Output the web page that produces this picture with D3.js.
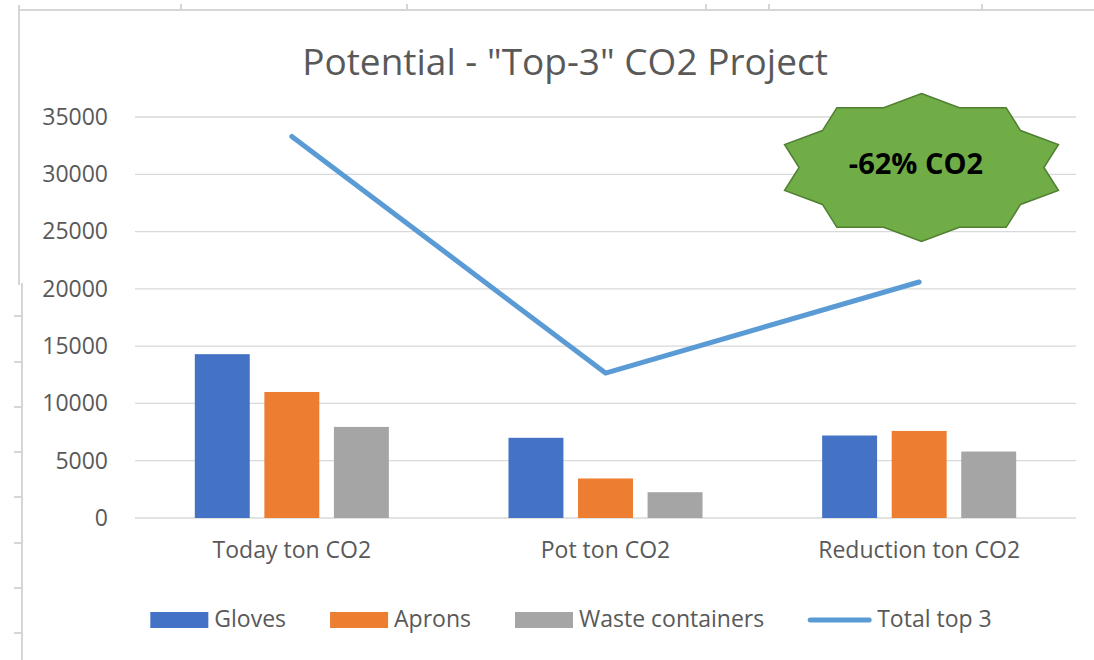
<!DOCTYPE html>
<html>
<head>
<meta charset="utf-8">
<script src="https://cdn.jsdelivr.net/npm/d3@7"></script>
<style>
  body { margin: 0; background: #fff; }
  svg { display: block; font-family: "Open Sans", sans-serif; }
</style>
</head>
<body>
<div id="chart"></div>
<script>
// ---- data ----
var categories = ['Today ton CO2', 'Pot ton CO2', 'Reduction ton CO2'];
var series_names = ['Gloves', 'Aprons', 'Waste containers'];
var gloves = [14300, 7000, 7200];
var aprons = [11000, 3450, 7600];
var waste = [7950, 2250, 5800];
var total_top3 = [33300, 12650, 20600];
var line_name = 'Total top 3';
var y_ticks = [0, 5000, 10000, 15000, 20000, 25000, 30000, 35000];
var callout_text = '-62% CO2';

// ---- layout ----
var W = 1094, H = 660;
var plot = {left: 135, right: 1076, top: 117, bottom: 518};
var colors = ['#4472C4', '#ED7D31', '#A5A5A5'];
var line_color = '#5B9BD5';
var text_color = '#595959';
var grid_color = '#D9D9D9';
var frame_color = '#D6D6D6';

// spreadsheet cell borders behind the chart
var frame_top_ticks = [181, 407, 706, 769, 982];
var frame_left_ticks = [316, 362, 407, 452, 497, 543, 588, 633];

var svg = d3.select('#chart').append('svg').attr('width', W).attr('height', H);

var frame = svg.append('g').attr('stroke', frame_color).attr('stroke-width', 2);
frame.append('line').attr('x1', 19).attr('x2', W).attr('y1', 10).attr('y2', 10);
frame.append('line').attr('x1', 19).attr('x2', 19).attr('y1', 5).attr('y2', 285);
frame.append('line').attr('x1', 22).attr('x2', 22).attr('y1', 283).attr('y2', H);
frame.selectAll('.tt').data(frame_top_ticks).enter().append('line')
    .attr('x1', d => d).attr('x2', d => d).attr('y1', 4).attr('y2', 10);
frame.selectAll('.lt').data(frame_left_ticks).enter().append('line')
    .attr('x1', 14).attr('x2', 22).attr('y1', d => d).attr('y2', d => d);

// ---- scales ----
var x0 = d3.scaleBand().domain(categories).range([plot.left, plot.right]);
var x1 = d3.scaleBand().domain(series_names).range([0, x0.bandwidth()])
           .paddingInner(0.21).paddingOuter(0.86);
var y = d3.scaleLinear().domain([0, 35000]).range([plot.bottom, plot.top]);

// grid
svg.append('g').selectAll('line').data(y_ticks).enter().append('line')
    .attr('x1', plot.left).attr('x2', plot.right)
    .attr('y1', d => y(d)).attr('y2', d => y(d))
    .attr('stroke', grid_color).attr('stroke-width', 1.3);

// y axis labels
var yAxis = d3.axisLeft(y).tickValues(y_ticks).tickSize(0).tickPadding(0).tickFormat(d3.format('d'));
var yg = svg.append('g').attr('transform', 'translate(108,0)').call(yAxis);
yg.select('.domain').remove();
yg.selectAll('text').attr('fill', text_color).attr('font-size', 23)
  .attr('font-family', '"Open Sans", sans-serif');

// x axis labels
var xAxis = d3.axisBottom(x0).tickSize(0).tickPadding(0);
var xg = svg.append('g').attr('transform', 'translate(0,' + 542 + ')').call(xAxis);
xg.select('.domain').remove();
xg.selectAll('text').attr('fill', text_color).attr('font-size', 23)
  .attr('font-family', '"Open Sans", sans-serif');

// bars
var bar_series = [gloves, aprons, waste];
var groups = svg.append('g').selectAll('g').data(categories).enter().append('g')
    .attr('transform', d => 'translate(' + x0(d) + ',0)');
groups.selectAll('rect')
    .data((c, ci) => series_names.map((s, si) => ({s: s, si: si, v: bar_series[si][ci]})))
    .enter().append('rect')
    .attr('x', d => x1(d.s))
    .attr('width', x1.bandwidth())
    .attr('y', d => y(d.v))
    .attr('height', d => y(0) - y(d.v))
    .attr('fill', d => colors[d.si]);

// total line
var line = d3.line().x((d, i) => x0(categories[i]) + x0.bandwidth() / 2).y(d => y(d));
svg.append('path').datum(total_top3)
    .attr('d', line).attr('fill', 'none')
    .attr('stroke', line_color).attr('stroke-width', 5)
    .attr('stroke-linecap', 'round').attr('stroke-linejoin', 'round');

// title
svg.append('text').attr('x', 565).attr('y', 75)
    .attr('text-anchor', 'middle').attr('font-size', 37).attr('fill', text_color)
    .text('Potential - "Top-3" CO2 Project');

// star callout (10 points)
var star = {cx: 921.5, cy: 167.5, rx: 144, ry: 74, inner: 0.85};
var star_pts = d3.range(20).map(i => {
    var a = Math.PI / 2 - i * Math.PI / 10;
    var k = i % 2 === 0 ? 1 : star.inner;
    return [star.cx + star.rx * k * Math.cos(a), star.cy - star.ry * k * Math.sin(a)];
});
svg.append('path').attr('d', 'M' + star_pts.join('L') + 'Z')
    .attr('fill', '#70AD47').attr('stroke', '#507E32').attr('stroke-width', 1.5);
svg.append('text').attr('x', 916).attr('y', 174)
    .attr('text-anchor', 'middle').attr('font-size', 29).attr('font-weight', 700)
    .attr('fill', '#000').text(callout_text);

// legend
var legend_items = series_names.map((s, i) => ({name: s, color: colors[i], type: 'rect'}))
    .concat([{name: line_name, color: line_color, type: 'line'}]);
var lg = svg.append('g');
var lx = 0;
var legend_gap = 44;
legend_items.forEach((d, i) => {
    var g = lg.append('g').attr('transform', 'translate(' + lx + ',0)');
    var sw = 58;
    if (d.type === 'rect') {
        g.append('rect').attr('x', 0).attr('y', 612).attr('width', sw).attr('height', 16).attr('fill', d.color);
    } else {
        sw = 63;
        g.append('line').attr('x1', 2).attr('x2', sw - 2).attr('y1', 620).attr('y2', 620)
            .attr('stroke', d.color).attr('stroke-width', 5).attr('stroke-linecap', 'round');
    }
    var t = g.append('text').attr('x', sw + 6).attr('y', 627).attr('font-size', 23)
        .attr('fill', text_color).text(d.name);
    lx += sw + 6 + t.node().getComputedTextLength() + legend_gap;
});
var lw = lx - legend_gap;
lg.attr('transform', 'translate(' + (571 - lw / 2) + ',0)');
</script>
</body>
</html>
